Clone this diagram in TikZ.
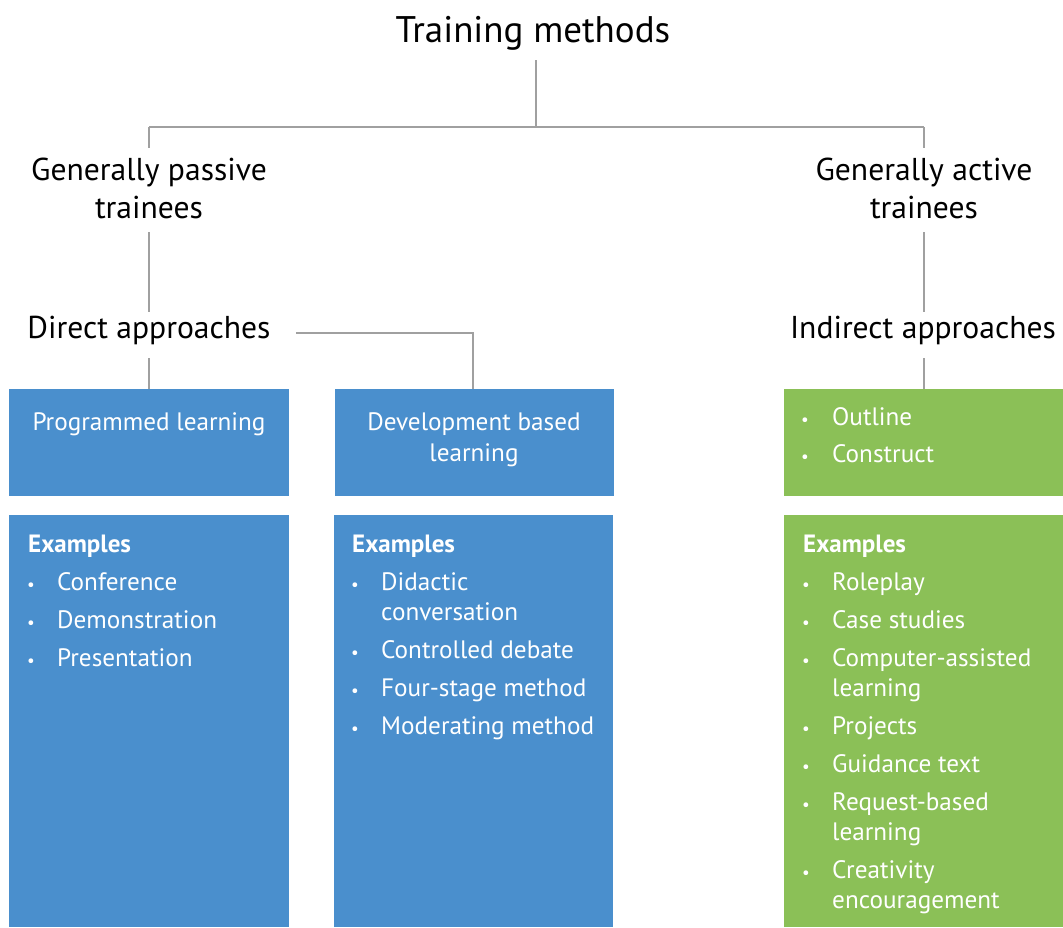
\documentclass[tikz,border=0pt]{standalone}
\usepackage{fontspec}
\setmainfont{PT Sans}
\definecolor{boxblue}{RGB}{74,143,205}
\definecolor{boxgreen}{RGB}{139,192,87}
\definecolor{linegray}{RGB}{160,160,160}
\begin{document}
\begin{tikzpicture}[x=1pt,y=-1pt,
  conn/.style={draw=linegray,line width=2.5pt},
  ttl/.style={font=\fontsize{37}{44}\selectfont, anchor=base, inner sep=0},
  lvl/.style={font=\fontsize{31.6}{38}\selectfont, anchor=base, inner sep=0},
  bbox/.style={fill=boxblue, draw=none, inner sep=0, anchor=north west},
  gbox/.style={fill=boxgreen, draw=none, inner sep=0, anchor=north west},
  itm/.style={text=white, font=\fontsize{25.2}{30}\selectfont, anchor=base west, inner sep=0},
  ctr/.style={text=white, font=\fontsize{25.2}{30}\selectfont, anchor=base, inner sep=0},
  hdr/.style={text=white, font=\bfseries\fontsize{25}{30}\selectfont, anchor=base west, inner sep=0},
  bul/.style={text=white, font=\fontsize{17}{20}\selectfont, anchor=base, inner sep=0}
]
\useasboundingbox (0,0) rectangle (1063,927);

% boxes
\node[bbox, minimum width=280, minimum height=107] (b1) at (9,389) {};
\node[bbox, minimum width=279, minimum height=107] (b2) at (335,389) {};
\node[gbox, minimum width=279, minimum height=107] (b3) at (784,389) {};
\node[bbox, minimum width=280, minimum height=412] (e1) at (9,515) {};
\node[bbox, minimum width=279, minimum height=412] (e2) at (334,515) {};
\node[gbox, minimum width=279, minimum height=412] (e3) at (784,515) {};

% titles
\node[ttl] (tm) at (533,42) {Training methods};
\node[lvl] (gp1) at (149,180) {Generally passive};
\node[lvl] (gp2) at (149,218) {trainees};
\node[lvl] (ga1) at (924,180) {Generally active};
\node[lvl] (ga2) at (924,218) {trainees};
\node[lvl] (da) at (149,338) {Direct approaches};
\node[lvl] (ia) at (923,338) {Indirect approaches};

% junctions
\coordinate (jt) at (536,127);
\coordinate (jl) at (149,127);
\coordinate (jr) at (924,127);
\coordinate (jd) at (473,333);

% connectors
\draw[conn] (jt |- 0,60) -- (jt);
\draw[conn] (jl) -- (jr);
\draw[conn] (jl) -- (jl |- 0,148);
\draw[conn] (jr) -- (jr |- 0,148);
\draw[conn] (jl |- 0,232) -- (jl |- 0,312);
\draw[conn] (jr |- 0,232) -- (jr |- 0,312);
\draw[conn] (jl |- 0,358) -- (jl |- b1.north);
\draw[conn] (jr |- 0,358) -- (jr |- b3.north);
\draw[conn] ([xshift=25pt]da.east |- jd) -- (jd) -- (jd |- b2.north);

% box texts
\node[ctr] (pl) at (149,430) {Programmed learning};
\node[ctr] (db1) at (474,430) {Development based};
\node[ctr] (db2) at (474,461) {learning};
\node[bul] (o0) at (805,425) {•};
\node[itm] (o1) at (832,425) {Outline};
\node[bul] (c0) at (805,462) {•};
\node[itm] (c1) at (832,462) {Construct};

% examples box 1
\node[hdr] (h1) at (28,552) {Examples};
\node[bul] at (31,590) {•}; \node[itm] (p1) at (57,590) {Conference};
\node[bul] at (31,628) {•}; \node[itm] (p2) at (57,628) {Demonstration};
\node[bul] at (31,666) {•}; \node[itm] (p3) at (57,666) {Presentation};

% examples box 2
\node[hdr] (h2) at (352,552) {Examples};
\node[bul] at (355,590) {•}; \node[itm] (q1) at (381,590) {Didactic};
\node[itm] (q1b) at (381,620) {conversation};
\node[bul] at (355,658) {•}; \node[itm] (q2) at (381,658) {Controlled debate};
\node[bul] at (355,696) {•}; \node[itm] (q3) at (381,696) {Four-stage method};
\node[bul] at (355,734) {•}; \node[itm] (q4) at (381,734) {Moderating method};

% examples box 3
\node[hdr] (h3) at (803,552) {Examples};
\node[bul] at (806,590) {•}; \node[itm] (r1) at (832,590) {Roleplay};
\node[bul] at (806,628) {•}; \node[itm] (r2) at (832,628) {Case studies};
\node[bul] at (806,666) {•}; \node[itm] (r3) at (832,666) {Computer-assisted};
\node[itm] (r3b) at (832,696) {learning};
\node[bul] at (806,734) {•}; \node[itm] (r4) at (832,734) {Projects};
\node[bul] at (806,772) {•}; \node[itm] (r5) at (832,772) {Guidance text};
\node[bul] at (806,810) {•}; \node[itm] (r6) at (832,810) {Request-based};
\node[itm] (r6b) at (832,840) {learning};
\node[bul] at (806,878) {•}; \node[itm] (r7) at (832,878) {Creativity};
\node[itm] (r7b) at (832,908) {encouragement};
\end{tikzpicture}
\end{document}
